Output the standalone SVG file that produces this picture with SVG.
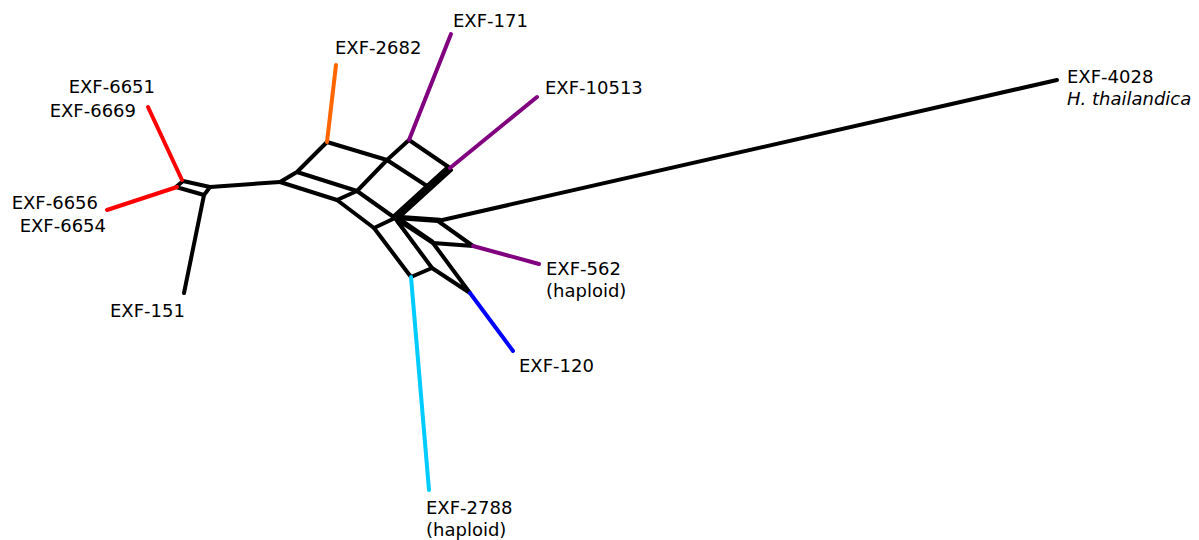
<svg xmlns="http://www.w3.org/2000/svg" width="1199" height="540" viewBox="0 0 1199 540">
<style>
.e{stroke:#000;stroke-width:4;fill:none;stroke-linecap:round;stroke-linejoin:round}
.t{stroke:#000;stroke-width:2.4;fill:none;stroke-linecap:round}
.l{font-family:"DejaVu Sans",sans-serif;font-size:18px;fill:#000}
.i{font-style:italic}
</style>
<rect width="1199" height="540" fill="#fff"/>
<g id="connectors">
<path class="e" d="M183,181 L176,187 L204,195 L210,187 Z"/>
<path class="e" d="M210,187 L280,182"/>
<path class="e" d="M204,195 L184,293"/>
<path class="e" d="M280,182 L297,172 L327,142 L387,160 L357,191 L297,172"/>
<path class="e" d="M280,182 L337,200 L357,191"/>
<path class="e" d="M387,160 L409,140 L450,168"/>
<path class="e" d="M387,160 L427,186"/>
<path class="e" d="M357,191 L395,218"/>
<path class="e" d="M337,200 L374,228 L395,218"/>
<path class="e" d="M374,228 L411,277 L432,268"/>
<path class="e" d="M395,218 L432,268 L470,293 L433,243 L395,218"/>
<path class="e" d="M395,218 L438,221 L473,246 L433,243"/>
<path class="e" d="M450,168 L395,218"/>
<path class="t" d="M448,166 L393,216"/>
<path class="t" d="M452,170 L397,220"/>
<path class="t" d="M398,217 L433,241"/>
<path class="t" d="M397,222 L434,270"/>
<path class="t" d="M398,216 L440,219"/>
<path class="e" d="M438,221 L1057,80"/>
<path d="M148,107 L182,180" stroke="#ff0000" stroke-width="4" stroke-linecap="round"/>
<path d="M107,210 L177,187" stroke="#ff0000" stroke-width="4" stroke-linecap="round"/>
<path d="M327,142 L336,65" stroke="#ff6600" stroke-width="4" stroke-linecap="round"/>
<path d="M409,140 L451,34" stroke="#800080" stroke-width="4" stroke-linecap="round"/>
<path d="M450,168 L537,97" stroke="#800080" stroke-width="4" stroke-linecap="round"/>
<path d="M473,246 L539,264" stroke="#800080" stroke-width="4" stroke-linecap="round"/>
<path d="M470,293 L513,351" stroke="#0000ff" stroke-width="4" stroke-linecap="round"/>
<path d="M411,277 L429,490" stroke="#00ccff" stroke-width="4" stroke-linecap="round"/>
</g>
<g id="n-exf171"><text class="l" x="453" y="27">EXF-171</text></g>
<g id="n-exf2682"><text class="l" x="335" y="54">EXF-2682</text></g>
<g id="n-exf10513"><text class="l" x="545" y="94">EXF-10513</text></g>
<g id="n-exf4028"><text class="l" x="1067" y="83">EXF-4028</text><text class="l i" x="1067" y="105">H. thailandica</text></g>
<g id="n-exf6651"><text class="l" x="155" y="93" text-anchor="end">EXF-6651</text><text class="l" x="136" y="117" text-anchor="end">EXF-6669</text></g>
<g id="n-exf6656"><text class="l" x="98" y="209" text-anchor="end">EXF-6656</text><text class="l" x="106" y="232" text-anchor="end">EXF-6654</text></g>
<g id="n-exf151"><text class="l" x="110" y="317">EXF-151</text></g>
<g id="n-exf562"><text class="l" x="546" y="275">EXF-562</text><text class="l" x="546" y="297">(haploid)</text></g>
<g id="n-exf120"><text class="l" x="519" y="372">EXF-120</text></g>
<g id="n-exf2788"><text class="l" x="426" y="514">EXF-2788</text><text class="l" x="426" y="536">(haploid)</text></g>
</svg>
